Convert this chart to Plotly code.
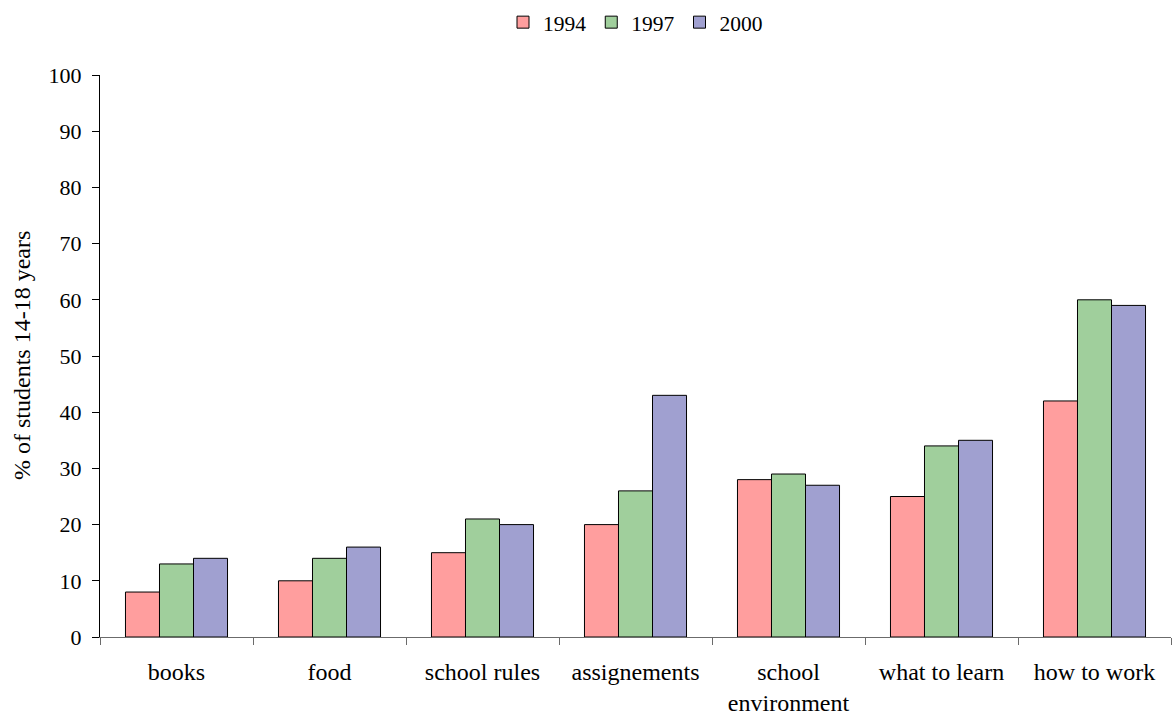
import plotly.graph_objects as go

categories = ["books", "food", "school rules", "assignements",
              "school<br>environment", "what to learn", "how to work"]
years = ["1994", "1997", "2000"]
values_1994 = [8, 10, 15, 20, 28, 25, 42]
values_1997 = [13, 14, 21, 26, 29, 34, 60]
values_2000 = [14, 16, 20, 43, 27, 35, 59]
colors = ["#FF9E9E", "#A0CF9C", "#A0A0D0"]
y_title = "% of students 14-18 years"

fig = go.Figure()
for name, vals, col in zip(years, [values_1994, values_1997, values_2000], colors):
    fig.add_trace(go.Bar(
        x=categories, y=vals, name=name,
        marker=dict(color=col, line=dict(color="#000000", width=1)),
    ))

font_family = "Liberation Serif, Times New Roman, serif"
fig.update_layout(
    width=1172, height=716,
    margin=dict(l=100, r=1, t=75, b=79),
    paper_bgcolor="white", plot_bgcolor="white",
    barmode="group", bargap=0.333, bargroupgap=0,
    font=dict(family=font_family, size=23, color="#000000"),
    showlegend=True,
    legend=dict(orientation="h", x=0.5, xanchor="center", y=1.094, yanchor="middle",
                font=dict(size=21.5), itemwidth=30, traceorder="normal"),
)
fig.update_xaxes(
    showline=True, linecolor="#6b6b6b", linewidth=1,
    ticks="outside", tickson="boundaries", ticklen=7, tickcolor="#6b6b6b",
    showgrid=False, ticklabelstandoff=13, tickfont=dict(size=24), automargin=False,
)
fig.update_yaxes(
    range=[0, 100], dtick=10, showline=True, linecolor="#000000", linewidth=1,
    ticks="outside", ticklen=7, tickcolor="#000000", showgrid=False, zeroline=False,
    tickfont=dict(size=22), ticklabelstandoff=6, automargin=False,
)
# Vertical axis title placed to the left of the tick labels
fig.add_annotation(
    text=y_title, textangle=-90, xref="paper", yref="paper",
    x=-78 / 1071, y=0.5, xanchor="center", yanchor="middle",
    showarrow=False, font=dict(size=24),
)

fig.write_html("out.html")
